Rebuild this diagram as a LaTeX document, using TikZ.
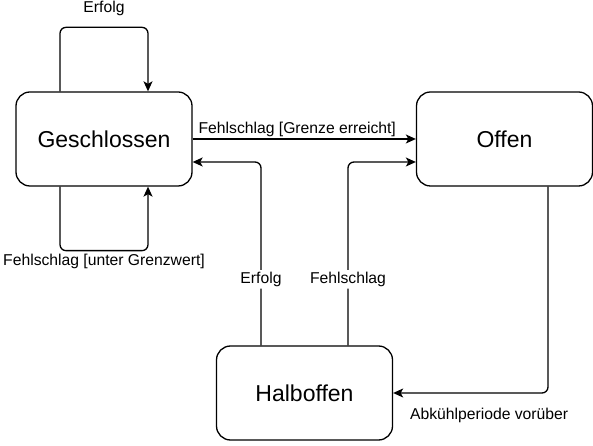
\documentclass[tikz,border=0pt]{standalone}
\usepackage{fontspec}
\setmainfont{Liberation Sans}
\usetikzlibrary{arrows.meta,positioning}
\begin{document}
\begin{tikzpicture}[x=1pt,y=1pt,line width=1.3pt,
    zustand/.style={draw,rounded corners=14pt,minimum width=176pt,minimum height=94pt,font=\fontsize{23}{28}\selectfont},
    pfeil/.style={-{Stealth[length=10pt,width=9pt,inset=2.5pt]},rounded corners=6pt},
    lbl/.style={font=\fontsize{15.7}{19}\selectfont,inner sep=2pt}]
  \useasboundingbox (0,0) rectangle (593,446);
  \node[zustand] (gs) at (104,307) {Geschlossen};
  \node[zustand] (of) at (504.5,307) {Offen};
  \node[zustand] (hb) at (304.5,53) {Halboffen};
  % Schleifen an Geschlossen
  \draw[pfeil] ([xshift=-44pt]gs.north) -- ++(0,64) -- ++(88,0) node[midway,lbl,above=9pt] {Erfolg} -- ([xshift=44pt]gs.north);
  \draw[pfeil] ([xshift=-44pt]gs.south) -- ++(0,-64) -- ++(88,0) node[midway,lbl,below=1pt] {Fehlschlag [unter Grenzwert]} -- ([xshift=44pt]gs.south);
  % Uebergaenge
  \draw[pfeil] (gs) -- (of) node[midway,lbl,above,xshift=-7pt] {Fehlschlag [Grenze erreicht]};
  \draw[pfeil] ([xshift=-43.5pt]hb.north) |- ([yshift=-23pt]gs.east) node[pos=0.18,lbl,fill=white] {Erfolg};
  \draw[pfeil] ([xshift=43.5pt]hb.north) |- ([yshift=-23pt]of.west) node[pos=0.18,lbl,fill=white] {Fehlschlag};
  \draw[pfeil] ([xshift=43.5pt]of.south) |- (hb.east) node[pos=0.69,lbl,below=12pt] {Abkühlperiode vorüber};
\end{tikzpicture}
\end{document}
